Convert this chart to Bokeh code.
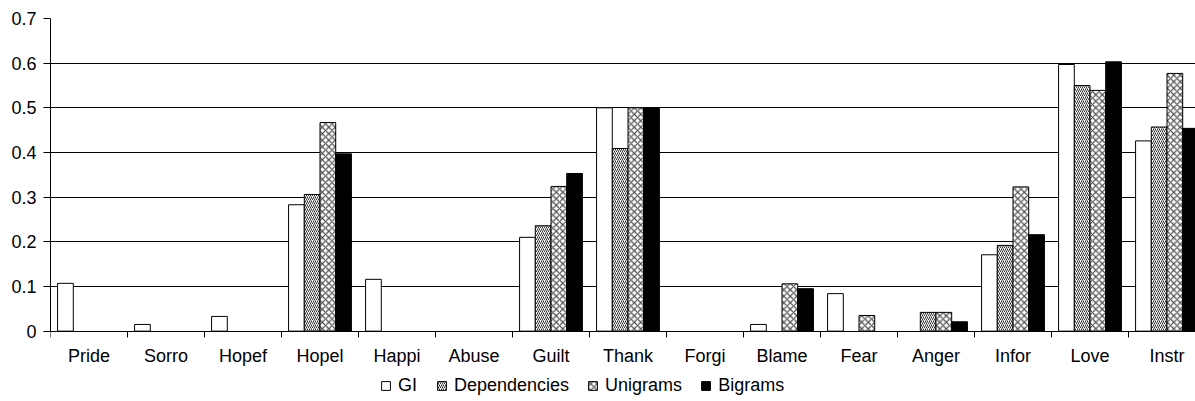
from bokeh.plotting import figure
from bokeh.models import ColumnDataSource, Range1d, FixedTicker, Legend
from bokeh.transform import dodge
from bokeh.embed import file_html
from bokeh.resources import INLINE

categories = ["Pride", "Sorro", "Hopef", "Hopel", "Happi", "Abuse", "Guilt", "Thank",
              "Forgi", "Blame", "Fear", "Anger", "Infor", "Love", "Instr"]
gi = [0.107, 0.015, 0.033, 0.283, 0.116, 0, 0.210, 0.500, 0, 0.015, 0.084, 0, 0.171, 0.597, 0.426]
dependencies = [0, 0, 0, 0.306, 0, 0, 0.236, 0.409, 0, 0, 0, 0.042, 0.192, 0.550, 0.457]
unigrams = [0, 0, 0, 0.467, 0, 0, 0.324, 0.500, 0, 0.106, 0.035, 0.042, 0.323, 0.539, 0.577]
bigrams = [0, 0, 0, 0.397, 0, 0, 0.353, 0.500, 0, 0.095, 0, 0.021, 0.216, 0.603, 0.454]
y_ticks = [0, 0.1, 0.2, 0.3, 0.4, 0.5, 0.6, 0.7]

FONT = "Liberation Sans"
BW = 0.204

# the frame extends below zero so that the category labels and the legend sit inside it
p = figure(width=1195, height=398, output_backend="svg", toolbar_location=None,
           x_range=Range1d(0, 14.87), y_range=Range1d(-0.1508, 0.7),
           min_border_left=50, min_border_right=0, min_border_top=18, min_border_bottom=0)
p.outline_line_color = None
p.background_fill_color = "white"
p.border_fill_color = "white"

series = [
    ("GI", gi, dict(fill_color="white")),
    ("Dependencies", dependencies, dict(fill_color="white", hatch_pattern="/", hatch_color="#333333",
                                        hatch_scale=4, hatch_weight=1)),
    ("Unigrams", unigrams, dict(fill_color="white", hatch_pattern="x", hatch_color="#4d4d4d",
                                hatch_scale=6.5, hatch_weight=1.2)),
    ("Bigrams", bigrams, dict(fill_color="black")),
]

renderers = []
for k, (name, vals, style) in enumerate(series):
    xs = [i + 0.5 for i, v in enumerate(vals) if v > 0]
    ys = [v for v in vals if v > 0]
    src = ColumnDataSource(dict(x=xs, top=ys))
    r = p.vbar(x=dodge("x", (k - 1.5) * BW), top="top", bottom=0, width=BW, source=src,
               line_color="black", line_width=1, **style)
    renderers.append((name, [r]))

# x axis, drawn at y = 0
centers = [i + 0.5 for i in range(len(categories))]
bounds = [i for i in range(len(categories) + 1)]
xa = p.xaxis[0]
xa.fixed_location = 0
xa.ticker = FixedTicker(ticks=centers, minor_ticks=bounds)
xa.major_label_overrides = {c: n for c, n in zip(centers, categories)}
xa.major_tick_in = 0
xa.major_tick_out = 0
xa.minor_tick_in = 0
xa.minor_tick_out = 6
xa.minor_tick_line_color = "black"
xa.axis_line_color = "black"
xa.major_label_standoff = 9
xa.axis_label_standoff = 0
xa.major_label_text_font = FONT
xa.major_label_text_font_size = "18px"
xa.major_label_text_color = "black"

# y axis
ya = p.yaxis[0]
ya.bounds = (0, 0.7)
ya.ticker = FixedTicker(ticks=y_ticks)
ya.major_label_overrides = {0: "0"}
ya.major_tick_in = 0
ya.major_tick_out = 7
ya.minor_tick_line_color = None
ya.axis_line_color = "black"
ya.major_tick_line_color = "black"
ya.major_label_standoff = 7
ya.major_label_text_font = FONT
ya.major_label_text_font_size = "18px"
ya.major_label_text_color = "black"

p.xgrid.grid_line_color = None
p.ygrid.ticker = FixedTicker(ticks=y_ticks)
p.ygrid.grid_line_color = "black"
p.ygrid.grid_line_width = 1

legend = Legend(items=renderers, orientation="horizontal", location=(330, 2),
                border_line_color=None, background_fill_alpha=0,
                label_text_font=FONT, label_text_font_size="18px", label_text_color="black",
                glyph_width=11, glyph_height=11, label_standoff=7, spacing=18,
                label_height=16, padding=0, margin=0)
p.add_layout(legend, "center")

open("out.html", "w").write(file_html(p, INLINE))
